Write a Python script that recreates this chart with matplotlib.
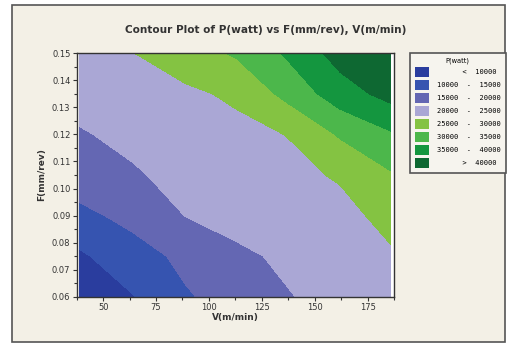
import numpy as np
import matplotlib
matplotlib.use("Agg")
import matplotlib.pyplot as plt
from matplotlib.patches import Patch, Rectangle

# cutting speed V (m/min) and feed F (mm/rev) grid, power P (watt)
V = [39, 64, 89, 113, 137, 162, 186]
F = [0.060, 0.075, 0.090, 0.105, 0.120, 0.135, 0.150]
P = [
    [6000, 9800, 14500, 17100, 19700, 21700, 22800],
    [9300, 12900, 16200, 19000, 20900, 22800, 24400],
    [13700, 16500, 20100, 21800, 22500, 23500, 26500],
    [17850, 19600, 21100, 22350, 23700, 25500, 29500],
    [19700, 20900, 22350, 23700, 25100, 30550, 34400],
    [21300, 22800, 24100, 25800, 31400, 37700, 41700],
    [22800, 24900, 27700, 30600, 35700, 42000, 48000],
]

levels = [0, 10000, 15000, 20000, 25000, 30000, 35000, 40000, 100000]
level_labels = ["      <  10000", "10000  -  15000", "15000  -  20000", "20000  -  25000",
                "25000  -  30000", "30000  -  35000", "35000  -  40000", "      >  40000"]
colors = ["#2a3d9e", "#3654b0", "#6467b3", "#aaa7d5",
          "#84c342", "#4cb74b", "#14963f", "#0e6832"]

fig = plt.figure(figsize=(5.15, 3.46), dpi=100, facecolor="white")
frame = Rectangle((0.024, 0.012), 0.956, 0.973, transform=fig.transFigure,
                  facecolor="#f3f0e6", edgecolor="#555555", linewidth=1.2, zorder=-10)
fig.patches.append(frame)

ax = fig.add_axes([0.149, 0.1425, 0.616, 0.7035])
ax.contourf(np.array(V), np.array(F), np.array(P), levels=levels, colors=colors)
ax.set_xlim(39, 186)
ax.set_ylim(0.06, 0.15)

ax.set_xticks([50, 75, 100, 125, 150, 175])
ax.set_xticks(np.arange(37.5, 190, 12.5), minor=True)
ax.set_yticks(np.arange(0.06, 0.1501, 0.01))
ax.set_yticks(np.arange(0.065, 0.15, 0.01), minor=True)
ax.yaxis.set_major_formatter(matplotlib.ticker.FormatStrFormatter("%.2f"))
ax.tick_params(which="both", direction="out", colors="#333333", labelsize=6, width=0.8)
ax.tick_params(which="major", length=3, pad=1.5)
ax.tick_params(which="minor", length=2)
for s in ax.spines.values():
    s.set_color("#333333")
    s.set_linewidth(1.0)

ax.set_xlabel("V(m/min)", fontsize=6.5, fontweight="bold", color="#333333", labelpad=1)
ax.set_ylabel("F(mm/rev)", fontsize=6.5, fontweight="bold", color="#333333", labelpad=4)
fig.text(0.515, 0.912, "Contour Plot of P(watt) vs F(mm/rev), V(m/min)",
         ha="center", va="center", fontsize=7.6, fontweight="bold", color="#333333")

handles = [Patch(facecolor=c, edgecolor="none") for c in colors]
leg = fig.legend(handles, level_labels, loc="upper left", bbox_to_anchor=(0.789, 0.858),
                 prop={"family": "DejaVu Sans Mono", "size": 5.0}, title="P(watt)",
                 title_fontsize=4.8, handlelength=2.0, handleheight=1.9, labelspacing=0.4,
                 borderpad=0.7, handletextpad=1.2, fancybox=False, framealpha=1)
leg.get_frame().set_facecolor("#f6f4ee")
leg.get_frame().set_edgecolor("#555555")
leg.get_frame().set_linewidth(1.2)

fig.savefig("out.png", dpi=100)
